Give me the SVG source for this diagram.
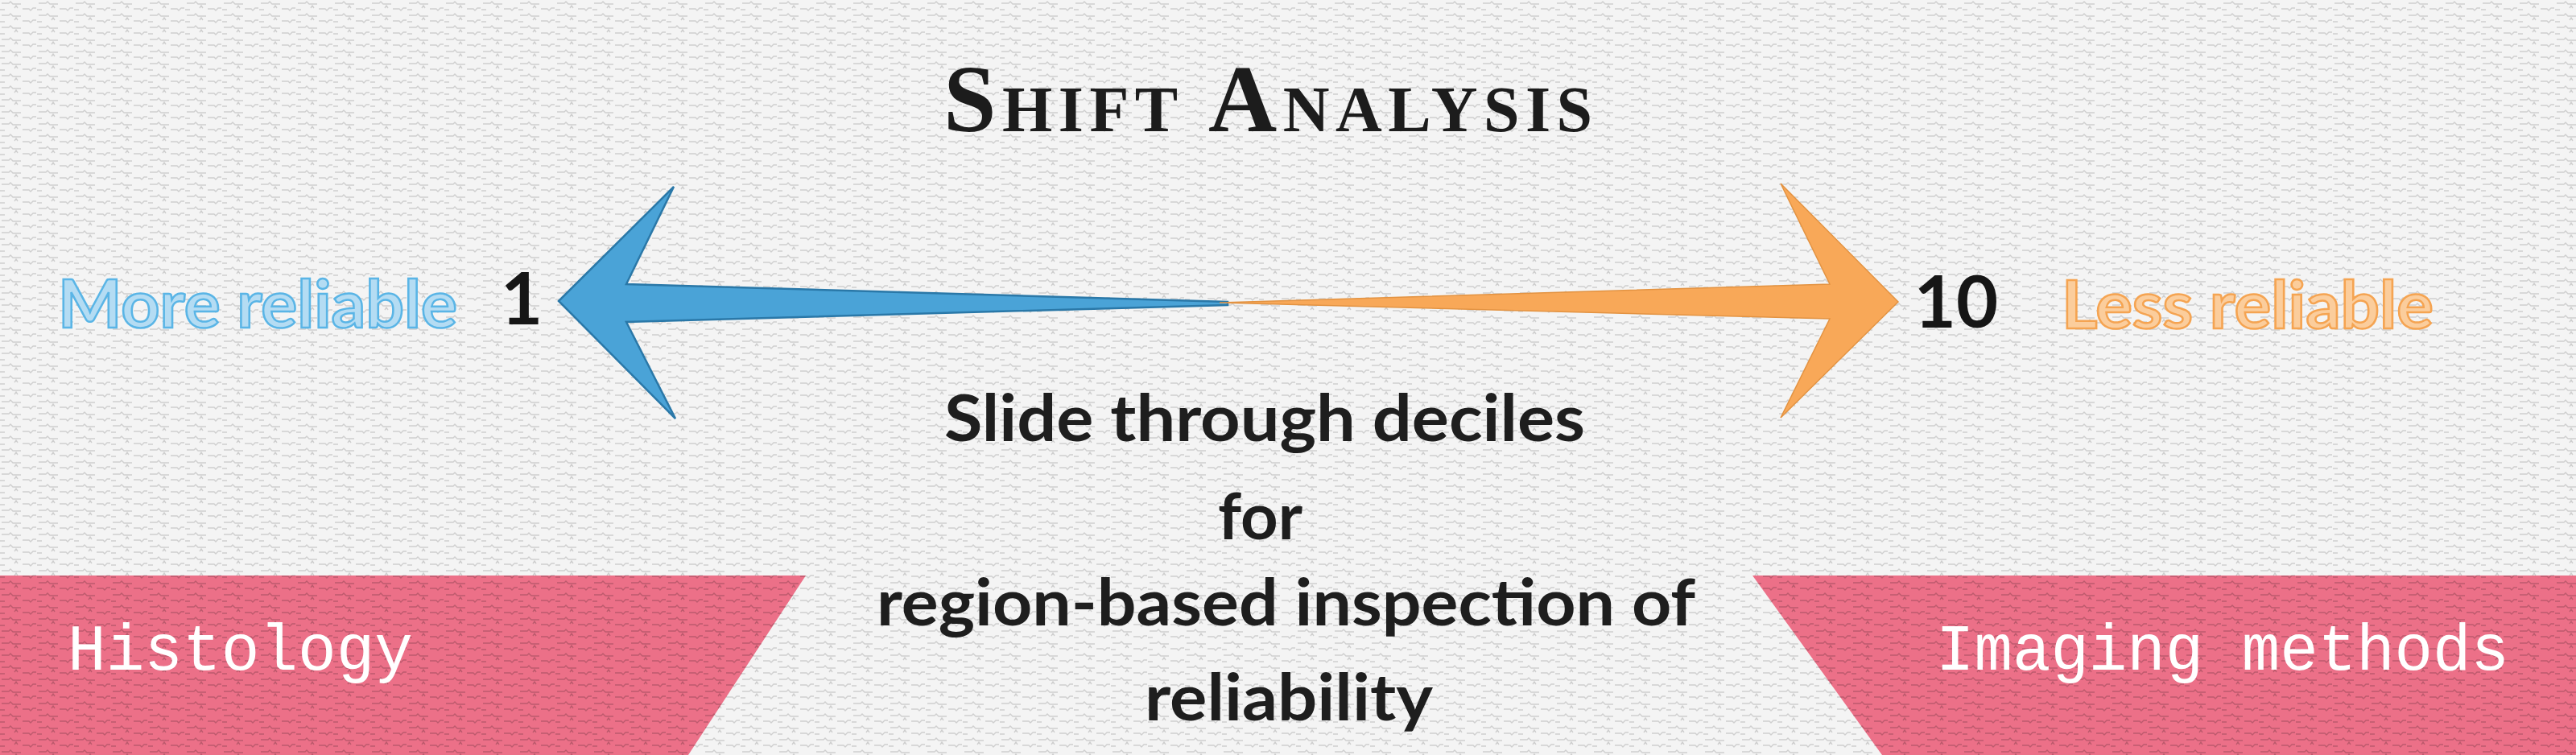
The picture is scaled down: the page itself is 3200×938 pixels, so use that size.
<svg xmlns="http://www.w3.org/2000/svg" width="3200" height="938" viewBox="0 0 3200 938">
<defs>
<pattern id="tex" width="46" height="15" patternUnits="userSpaceOnUse">
<path d="M2 4 h9 l2 -2 l3 3 h10 M28 11 h8 l2 2 l3 -3 h4 M0 12 h6 M18 10 l2 -3 l2 3" fill="none" stroke="#000" stroke-width="1.4"/>
</pattern>
<style>
.bg{fill:#f4f4f4}
.tex{fill:url(#tex);opacity:0.15}
.band{fill:#ec7088}
.texd{fill:url(#tex);opacity:0.2}
.title{font-family:"Liberation Serif",serif;font-weight:bold;fill:#1c1c1c}
.side{font-family:Lato,"Open Sans",sans-serif;font-weight:bold;font-size:82px;stroke-width:2.5}
.num{font-family:Lato,"Open Sans",sans-serif;font-weight:bold;font-size:90px;fill:#161616;text-anchor:middle}
.mono{font-family:"Liberation Mono",monospace;font-size:82px;fill:#ffffff}
.mid{font-family:Lato,"Open Sans",sans-serif;font-weight:bold;font-size:80px;fill:#1e1e1e}
</style>
</defs>
<rect class="bg" x="0" y="0" width="3200" height="938"/>
<rect class="tex" x="0" y="0" width="3200" height="938"/>

<g id="title">
<text class="title" x="1172" y="163" font-size="118" textLength="806" lengthAdjust="spacing">S<tspan font-size="80">HIFT</tspan> A<tspan font-size="80">NALYSIS</tspan></text>
</g>

<g id="connectors">
<path id="arrow-left" d="M694 374 L837 232 L778 353 L1525 375 L1525 379 L778 400 L839 520 Z" fill="#4aa3d7" stroke="#2a78a8" stroke-width="2.5"/>
<path id="arrow-right" d="M2358 375 L2212 228 L2273 353 L1515 376 L2273 396 L2212 519 Z" fill="#f8a858" stroke="#e39342" stroke-width="1.5"/>
</g>

<g id="more-reliable">
<text class="side" x="72" y="407" textLength="496" lengthAdjust="spacingAndGlyphs" fill="#b4dcf3" stroke="#5ab5e6">More reliable</text>
</g>
<g id="label-1">
<text class="num" x="648" y="403">1</text>
</g>
<g id="label-10">
<text class="num" x="2430" y="407">10</text>
</g>
<g id="less-reliable">
<text class="side" x="2561" y="408" textLength="462" lengthAdjust="spacingAndGlyphs" fill="#fbcd9c" stroke="#f5a452">Less reliable</text>
</g>

<g id="band-histology">
<path class="band" d="M0 715 L1001 715 L855 938 L0 938 Z"/>
<path class="texd" d="M0 715 L1001 715 L855 938 L0 938 Z"/>
<text class="mono" x="84" y="832" textLength="429" lengthAdjust="spacingAndGlyphs">Histology</text>
</g>

<g id="band-imaging">
<path class="band" d="M2177 715 L3200 715 L3200 938 L2338 938 Z"/>
<path class="texd" d="M2177 715 L3200 715 L3200 938 L2338 938 Z"/>
<text class="mono" x="2405" y="832" textLength="712" lengthAdjust="spacingAndGlyphs">Imaging methods</text>
</g>

<g id="center-text">
<text class="mid" x="1173" y="548" textLength="796" lengthAdjust="spacingAndGlyphs">Slide through deciles</text>
<text class="mid" x="1513" y="670" textLength="105" lengthAdjust="spacingAndGlyphs">for</text>
<text class="mid" x="1089" y="777" textLength="1017" lengthAdjust="spacingAndGlyphs">region-based inspection of</text>
<text class="mid" x="1422" y="895" textLength="358" lengthAdjust="spacingAndGlyphs">reliability</text>
</g>
</svg>
